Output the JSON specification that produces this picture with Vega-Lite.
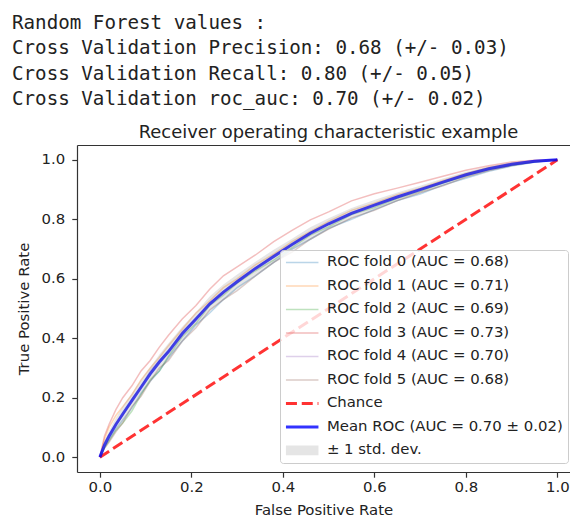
{
  "$schema": "https://vega.github.io/schema/vega-lite/v6.json",
  "width": 493,
  "height": 327,
  "autosize": {"type": "none"},
  "padding": {"left": 77, "top": 145, "right": 0, "bottom": 46},
  "background": "white",
  "title": {
    "text": ["Random Forest values :", "Cross Validation Precision: 0.68 (+/- 0.03)", "Cross Validation Recall: 0.80 (+/- 0.05)", "Cross Validation roc_auc: 0.70 (+/- 0.02)"],
    "anchor": "start", "frame": "group", "dx": -65,
    "font": "DejaVu Sans Mono", "fontSize": 19.2, "fontWeight": "normal",
    "lineHeight": 25.2, "color": "#222", "offset": 14
  },
  "config": {
    "view": {"stroke": null},
    "axis": {
      "labelFont": "DejaVu Sans", "titleFont": "DejaVu Sans",
      "labelFontSize": 14.9, "titleFontSize": 14.9, "titleFontWeight": "normal",
      "labelColor": "#222", "titleColor": "#222",
      "domainColor": "#333", "tickColor": "#333", "tickSize": 5.2, "tickWidth": 1.2, "domainWidth": 1.2, "grid": false,
      "labelFlush": false, "labelOverlap": false
    },
    "legend": {
      "labelFont": "DejaVu Sans", "labelFontSize": 14.9, "labelColor": "#222", "labelLimit": 400,
      "padding": 5, "cornerRadius": 3, "strokeColor": "#cccccc",
      "fillColor": "rgba(255,255,255,0.8)", "rowPadding": 7.5, "labelOffset": 27,
      "symbolSize": 169
    }
  },
  "datasets": {
    "roc": [
      {"fpr": 0, "f0": 0, "f1": 0, "f2": 0, "f3": 0, "f4": 0, "f5": 0, "mean": 0, "lo": 0, "hi": 0},
      {"fpr": 0.01, "f0": 0.035, "f1": 0.06, "f2": 0.03, "f3": 0.07, "f4": 0.05, "f5": 0.03, "mean": 0.04, "lo": 0.028, "hi": 0.052},
      {"fpr": 0.02, "f0": 0.06, "f1": 0.10, "f2": 0.055, "f3": 0.11, "f4": 0.075, "f5": 0.05, "mean": 0.07, "lo": 0.052, "hi": 0.088},
      {"fpr": 0.035, "f0": 0.095, "f1": 0.14, "f2": 0.09, "f3": 0.16, "f4": 0.11, "f5": 0.085, "mean": 0.11, "lo": 0.088, "hi": 0.132},
      {"fpr": 0.05, "f0": 0.125, "f1": 0.17, "f2": 0.115, "f3": 0.20, "f4": 0.14, "f5": 0.115, "mean": 0.145, "lo": 0.12, "hi": 0.17},
      {"fpr": 0.07, "f0": 0.165, "f1": 0.21, "f2": 0.155, "f3": 0.24, "f4": 0.195, "f5": 0.17, "mean": 0.19, "lo": 0.165, "hi": 0.215},
      {"fpr": 0.09, "f0": 0.215, "f1": 0.26, "f2": 0.21, "f3": 0.29, "f4": 0.235, "f5": 0.205, "mean": 0.235, "lo": 0.21, "hi": 0.26},
      {"fpr": 0.11, "f0": 0.255, "f1": 0.30, "f2": 0.26, "f3": 0.325, "f4": 0.29, "f5": 0.255, "mean": 0.28, "lo": 0.258, "hi": 0.302},
      {"fpr": 0.13, "f0": 0.29, "f1": 0.335, "f2": 0.29, "f3": 0.37, "f4": 0.325, "f5": 0.30, "mean": 0.32, "lo": 0.295, "hi": 0.345},
      {"fpr": 0.15, "f0": 0.335, "f1": 0.375, "f2": 0.34, "f3": 0.41, "f4": 0.355, "f5": 0.325, "mean": 0.355, "lo": 0.327, "hi": 0.383},
      {"fpr": 0.18, "f0": 0.39, "f1": 0.43, "f2": 0.405, "f3": 0.465, "f4": 0.423, "f5": 0.39, "mean": 0.415, "lo": 0.391, "hi": 0.439},
      {"fpr": 0.21, "f0": 0.445, "f1": 0.485, "f2": 0.45, "f3": 0.51, "f4": 0.465, "f5": 0.435, "mean": 0.465, "lo": 0.443, "hi": 0.487},
      {"fpr": 0.24, "f0": 0.485, "f1": 0.525, "f2": 0.51, "f3": 0.565, "f4": 0.52, "f5": 0.495, "mean": 0.515, "lo": 0.49, "hi": 0.54},
      {"fpr": 0.27, "f0": 0.53, "f1": 0.57, "f2": 0.545, "f3": 0.61, "f4": 0.552, "f5": 0.53, "mean": 0.555, "lo": 0.529, "hi": 0.581},
      {"fpr": 0.30, "f0": 0.57, "f1": 0.60, "f2": 0.585, "f3": 0.64, "f4": 0.594, "f5": 0.56, "mean": 0.59, "lo": 0.566, "hi": 0.614},
      {"fpr": 0.34, "f0": 0.61, "f1": 0.647, "f2": 0.627, "f3": 0.68, "f4": 0.635, "f5": 0.61, "mean": 0.635, "lo": 0.613, "hi": 0.657},
      {"fpr": 0.38, "f0": 0.655, "f1": 0.683, "f2": 0.663, "f3": 0.725, "f4": 0.68, "f5": 0.655, "mean": 0.675, "lo": 0.652, "hi": 0.698},
      {"fpr": 0.42, "f0": 0.70, "f1": 0.725, "f2": 0.705, "f3": 0.763, "f4": 0.715, "f5": 0.69, "mean": 0.715, "lo": 0.695, "hi": 0.735},
      {"fpr": 0.46, "f0": 0.733, "f1": 0.759, "f2": 0.747, "f3": 0.798, "f4": 0.756, "f5": 0.733, "mean": 0.753, "lo": 0.733, "hi": 0.773},
      {"fpr": 0.50, "f0": 0.77, "f1": 0.793, "f2": 0.775, "f3": 0.825, "f4": 0.783, "f5": 0.767, "mean": 0.785, "lo": 0.766, "hi": 0.804},
      {"fpr": 0.55, "f0": 0.80, "f1": 0.83, "f2": 0.816, "f3": 0.862, "f4": 0.823, "f5": 0.805, "mean": 0.82, "lo": 0.802, "hi": 0.838},
      {"fpr": 0.60, "f0": 0.833, "f1": 0.854, "f2": 0.84, "f3": 0.886, "f4": 0.848, "f5": 0.83, "mean": 0.848, "lo": 0.831, "hi": 0.865},
      {"fpr": 0.65, "f0": 0.863, "f1": 0.883, "f2": 0.87, "f3": 0.905, "f4": 0.877, "f5": 0.863, "mean": 0.875, "lo": 0.86, "hi": 0.89},
      {"fpr": 0.70, "f0": 0.885, "f1": 0.905, "f2": 0.894, "f3": 0.925, "f4": 0.90, "f5": 0.89, "mean": 0.90, "lo": 0.887, "hi": 0.913},
      {"fpr": 0.75, "f0": 0.915, "f1": 0.931, "f2": 0.922, "f3": 0.945, "f4": 0.927, "f5": 0.913, "mean": 0.925, "lo": 0.913, "hi": 0.937},
      {"fpr": 0.80, "f0": 0.938, "f1": 0.954, "f2": 0.946, "f3": 0.965, "f4": 0.949, "f5": 0.942, "mean": 0.95, "lo": 0.94, "hi": 0.96},
      {"fpr": 0.85, "f0": 0.962, "f1": 0.974, "f2": 0.968, "f3": 0.98, "f4": 0.971, "f5": 0.964, "mean": 0.97, "lo": 0.962, "hi": 0.978},
      {"fpr": 0.90, "f0": 0.979, "f1": 0.988, "f2": 0.982, "f3": 0.993, "f4": 0.985, "f5": 0.981, "mean": 0.985, "lo": 0.979, "hi": 0.991},
      {"fpr": 0.95, "f0": 0.992, "f1": 0.997, "f2": 0.994, "f3": 0.999, "f4": 0.995, "f5": 0.993, "mean": 0.995, "lo": 0.992, "hi": 0.998},
      {"fpr": 1.0, "f0": 1, "f1": 1, "f2": 1, "f3": 1, "f4": 1, "f5": 1, "mean": 1, "lo": 1, "hi": 1}
    ],
    "chance": [
      {"fpr": 0, "tpr": 0},
      {"fpr": 1, "tpr": 1}
    ]
  },
  "resolve": {"axis": {"x": "independent"}},
  "layer": [
    {
      "data": {"name": "roc"},
      "transform": [{"fold": ["f0", "f1", "f2", "f3", "f4", "f5"], "as": ["series", "tpr"]}],
      "mark": {"type": "line", "strokeWidth": 1.5, "opacity": 0.3},
      "encoding": {
        "x": {
          "field": "fpr", "type": "quantitative",
          "scale": {"domain": [-0.05, 1.0276], "nice": false, "zero": false},
          "axis": {"values": [0, 0.2, 0.4, 0.6, 0.8, 1.0], "format": ".1f", "title": "False Positive Rate", "labelPadding": 2, "titlePadding": 8}
        },
        "y": {
          "field": "tpr", "type": "quantitative",
          "scale": {"domain": [-0.05, 1.05], "nice": false, "zero": false},
          "axis": {"values": [0, 0.2, 0.4, 0.6, 0.8, 1.0], "format": ".1f", "title": "True Positive Rate", "labelPadding": 7, "titlePadding": 10}
        },
        "color": {
          "field": "series", "type": "nominal",
          "scale": {
            "domain": ["f0", "f1", "f2", "f3", "f4", "f5", "chance", "mean", "std"],
            "range": ["#1f77b4", "#ff7f0e", "#2ca02c", "#d62728", "#9467bd", "#8c564b", "#ff0000", "#0000ff", "#808080"]
          },
          "legend": {
            "orient": "none", "legendX": 203, "legendY": 105, "title": null,
            "labelExpr": "['ROC fold 0 (AUC = 0.68)','ROC fold 1 (AUC = 0.71)','ROC fold 2 (AUC = 0.69)','ROC fold 3 (AUC = 0.73)','ROC fold 4 (AUC = 0.70)','ROC fold 5 (AUC = 0.68)','Chance','Mean ROC (AUC = 0.70 ± 0.02)','± 1 std. dev.'][indexof(['f0','f1','f2','f3','f4','f5','chance','mean','std'], datum.value)]",
            "symbolType": {"expr": "datum.value === 'std' ? 'M-1,-0.75H4V0.75H-1Z' : 'M-1,0H4'"},
            "symbolFillColor": {"expr": "datum.value === 'std' ? '#808080' : 'transparent'"},
            "symbolStrokeColor": {"expr": "datum.value === 'std' ? 'transparent' : scale('color', datum.value)"},
            "symbolStrokeWidth": {"expr": "(datum.value === 'chance' || datum.value === 'mean') ? 3 : (datum.value === 'std' ? 0.01 : 1.5)"},
            "symbolDash": {"expr": "datum.value === 'chance' ? [11, 4.8] : [1, 0]"},
            "symbolOpacity": {"expr": "(datum.value === 'chance' || datum.value === 'mean') ? 0.8 : (datum.value === 'std' ? 0.2 : 0.3)"}
          }
        }
      }
    },
    {
      "data": {"name": "chance"},
      "mark": {"type": "line", "strokeWidth": 3, "opacity": 0.8, "strokeDash": [11, 4.8]},
      "encoding": {
        "x": {
          "field": "fpr", "type": "quantitative",
          "axis": {"orient": "top", "title": "Receiver operating characteristic example", "labels": false, "ticks": false, "domain": true, "titleFontSize": 17.9, "titlePadding": 4, "titleX": 251}
        },
        "y": {"field": "tpr", "type": "quantitative"},
        "color": {"datum": "chance", "legend": null}
      }
    },
    {
      "data": {"name": "roc"},
      "mark": {"type": "line", "strokeWidth": 3, "opacity": 0.8},
      "encoding": {
        "x": {"field": "fpr", "type": "quantitative", "axis": null},
        "y": {"field": "mean", "type": "quantitative"},
        "color": {"datum": "mean", "legend": null}
      }
    },
    {
      "data": {"name": "roc"},
      "mark": {"type": "area", "opacity": 0.2},
      "encoding": {
        "x": {"field": "fpr", "type": "quantitative", "axis": null},
        "y": {"field": "lo", "type": "quantitative"},
        "y2": {"field": "hi"},
        "color": {"datum": "std", "legend": null}
      }
    }
  ]
}
